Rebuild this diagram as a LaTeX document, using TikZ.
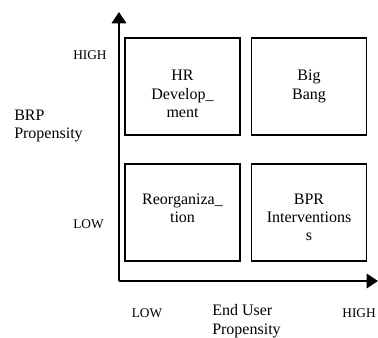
\documentclass[tikz,border=0pt]{standalone}
\usepackage{fontspec}
\setmainfont{Liberation Serif}
\usetikzlibrary{arrows.meta}

\tikzset{
  quad/.style={draw, line width=0.9pt, minimum width=86.25pt, minimum height=72.75pt, inner sep=0pt, outer sep=0pt},
  quadtext/.style={anchor=north, align=center, inner sep=0pt, font=\fontsize{12}{13.8}\selectfont},
  axis/.style={line width=0.9pt, -{Triangle[length=8.5pt,width=11pt]}},
  level/.style={inner sep=0pt, font=\fontsize{10}{12}\selectfont},
  axistitle/.style={align=left, inner sep=0pt, font=\fontsize{12}{13.8}\selectfont}
}

\begin{document}
\begin{tikzpicture}[x=0.75pt, y=-0.75pt]
  \useasboundingbox (0,0) rectangle (378,337);
  % axes
  \coordinate (origin) at (119,281);
  \coordinate (ytop) at (119,12);
  \coordinate (xend) at (378,281);
  \draw[axis] (origin) -- (ytop);
  \draw[axis] (origin) -- (xend);
  % quadrants
  \node[quad] (hr) at (182.5,86.5) {};
  \node[quad] (bb) at (309,86.5) {};
  \node[quad] (re) at (182.5,212.5) {};
  \node[quad] (bpr) at (309,212.5) {};
  \node[quadtext] (hrtext) at ([yshift=-24pt]hr.north) {HR\\Develop\_\\ment};
  \node[quadtext] (bbtext) at ([yshift=-24pt]bb.north) {Big\\Bang};
  \node[quadtext] (retext) at ([yshift=-22pt]re.north) {Reorganiza\_\\tion};
  \node[quadtext] (bprtext) at ([yshift=-22pt]bpr.north) {BPR\\Interventions\\s};
  % axis labels
  \node[level, anchor=west] (yhigh) at (73,55) {HIGH};
  \node[level, anchor=west] (ylow) at (73,224) {LOW};
  \node[axistitle, anchor=west] (ytitle) at (14,126) {BRP\\Propensity};
  \node[level] (xlow) at (147,313) {LOW};
  \node[level, anchor=east] (xhigh) at (376,313) {HIGH};
  \node[axistitle, anchor=west] (xtitle) at (212,321) {End User\\Propensity};
\end{tikzpicture}
\end{document}
